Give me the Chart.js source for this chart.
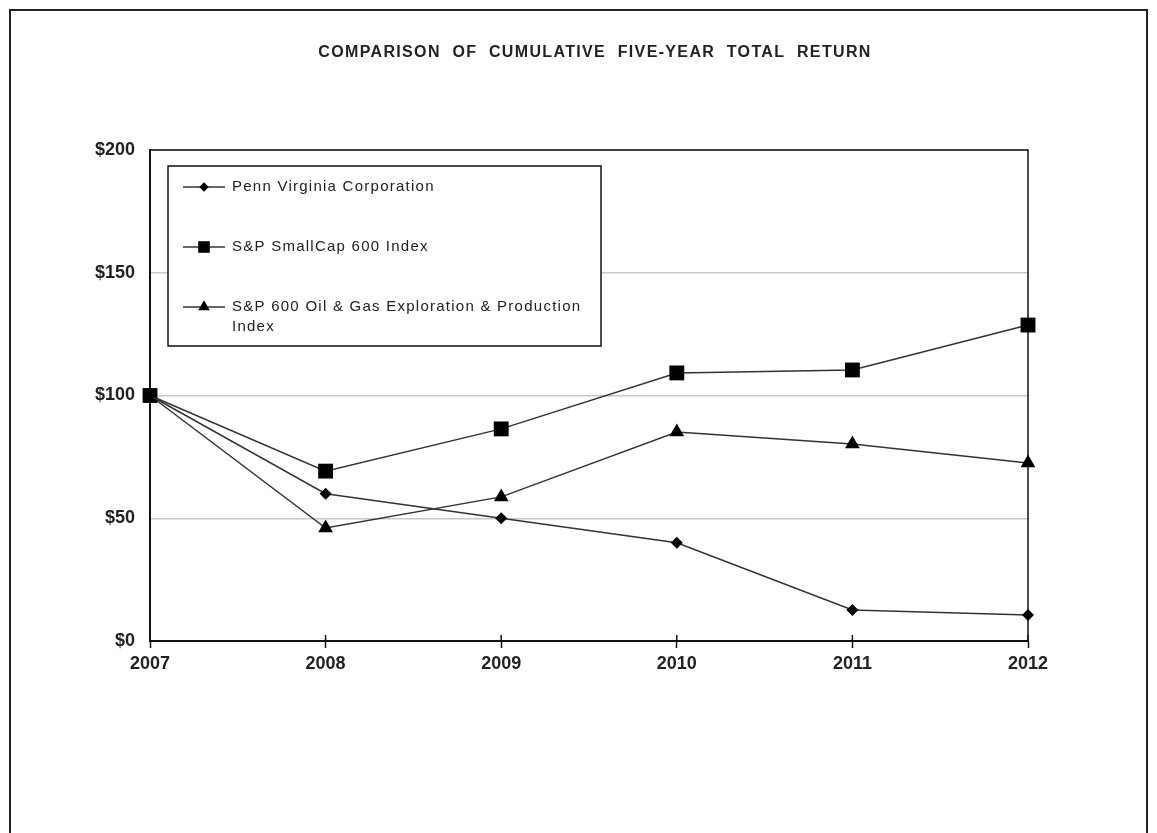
<!DOCTYPE html>
<html>
<head>
<meta charset="utf-8">
<script src="https://cdn.jsdelivr.net/npm/chart.js@4/dist/chart.umd.min.js"></script>
<style>
  html, body { margin: 0; padding: 0; background: #fff; overflow: hidden; }
  canvas { display: block; }
</style>
</head>
<body>
<canvas id="returnChart" width="1157" height="833"></canvas>
<script>
const years = ['2007', '2008', '2009', '2010', '2011', '2012'];
const pennVirginia = [100, 60, 50, 40, 12.6, 10.6];
const smallCap600 = [100, 69.2, 86.4, 109.2, 110.4, 128.7];
const oilGas600 = [100, 46, 58.7, 85.1, 80.2, 72.5];
const seriesNames = [
    'Penn Virginia Corporation',
    'S&P SmallCap 600 Index',
    'S&P 600 Oil & Gas Exploration & Production Index'
];
// legend text as it wraps in the box
const legendLines = [
    ['Penn Virginia Corporation'],
    ['S&P SmallCap 600 Index'],
    ['S&P 600 Oil & Gas Exploration & Production', 'Index']
];
const chartTitle = 'COMPARISON  OF  CUMULATIVE  FIVE-YEAR  TOTAL  RETURN';

const FONT = '"Liberation Sans", Arial, sans-serif';

function drawMarker(ctx, style, x, y, r) {
    ctx.beginPath();
    if (style === 'rect') {
        const s = Math.SQRT1_2 * r;
        ctx.rect(x - s, y - s, 2 * s, 2 * s);
    } else if (style === 'triangle') {
        let a = 0;
        ctx.moveTo(x + Math.sin(a) * r, y - Math.cos(a) * r);
        a += Math.PI * 2 / 3;
        ctx.lineTo(x + Math.sin(a) * r, y - Math.cos(a) * r);
        a += Math.PI * 2 / 3;
        ctx.lineTo(x + Math.sin(a) * r, y - Math.cos(a) * r);
    } else {
        ctx.moveTo(x - r, y);
        ctx.lineTo(x, y - r);
        ctx.lineTo(x + r, y);
        ctx.lineTo(x, y + r);
    }
    ctx.closePath();
    ctx.fill();
}

const decorPlugin = {
    id: 'decor',
    beforeDraw(chart) {
        const ctx = chart.ctx;
        ctx.save();
        ctx.fillStyle = '#fff';
        ctx.fillRect(0, 0, chart.width, chart.height);
        // outer frame (bottom edge runs off the page)
        ctx.strokeStyle = '#222';
        ctx.lineWidth = 2;
        ctx.beginPath();
        ctx.moveTo(10, chart.height + 5);
        ctx.lineTo(10, 10);
        ctx.lineTo(1147, 10);
        ctx.lineTo(1147, chart.height + 5);
        ctx.stroke();

        // title
        ctx.fillStyle = '#222';
        ctx.font = 'bold 16px ' + FONT;
        ctx.letterSpacing = '1.35px';
        ctx.textAlign = 'center';
        ctx.textBaseline = 'middle';
        ctx.fillText(chartTitle, 595, 53);
        ctx.restore();
    },
    beforeDatasetsDraw(chart) {
        const ctx = chart.ctx;
        const a = chart.chartArea;
        ctx.save();
        ctx.strokeStyle = '#111';
        ctx.lineWidth = 1.5;
        ctx.strokeRect(a.left, a.top, a.right - a.left, a.bottom - a.top);
        // small ticks poking up into the plot at each year
        const xs = chart.scales.x;
        ctx.beginPath();
        years.forEach((y, i) => {
            const px = xs.getPixelForValue(i);
            ctx.moveTo(px, a.bottom);
            ctx.lineTo(px, a.bottom - 6);
        });
        ctx.stroke();
        ctx.restore();
    },
    afterDatasetsDraw(chart) {
        const ctx = chart.ctx;
        const box = { x: 168, y: 166, w: 433, h: 180 };
        ctx.save();
        ctx.fillStyle = '#fff';
        ctx.fillRect(box.x, box.y, box.w, box.h);
        ctx.strokeStyle = '#111';
        ctx.lineWidth = 1.5;
        ctx.strokeRect(box.x, box.y, box.w, box.h);

        const rowY = [187, 247, 307];
        chart.data.datasets.forEach((ds, i) => {
            const y = rowY[i];
            ctx.strokeStyle = ds.borderColor;
            ctx.lineWidth = 1.5;
            ctx.beginPath();
            ctx.moveTo(183, y);
            ctx.lineTo(225, y);
            ctx.stroke();
            ctx.fillStyle = '#000';
            drawMarker(ctx, ds.pointStyle, 204, y, ds.pointRadius * 0.78);

            ctx.fillStyle = '#222';
            ctx.font = '15px ' + FONT;
            ctx.letterSpacing = '1.25px';
            ctx.textAlign = 'left';
            ctx.textBaseline = 'middle';
            legendLines[i].forEach((line, j) => {
                ctx.fillText(line, 232, y + j * 20);
            });
        });
        ctx.restore();
    }
};

const ctx = document.getElementById('returnChart').getContext('2d');
const returnChart = new Chart(ctx, {
    type: 'line',
    data: {
        labels: years,
        datasets: [{
            label: seriesNames[0],
            data: pennVirginia,
            borderColor: '#333',
            backgroundColor: '#000',
            borderWidth: 1.5,
            pointStyle: 'rectRot',
            pointRadius: 6,
            pointBorderWidth: 0,
            clip: false
        }, {
            label: seriesNames[1],
            data: smallCap600,
            borderColor: '#333',
            backgroundColor: '#000',
            borderWidth: 1.5,
            pointStyle: 'rect',
            pointRadius: 10.5,
            pointBorderWidth: 0,
            clip: false
        }, {
            label: seriesNames[2],
            data: oilGas600,
            borderColor: '#333',
            backgroundColor: '#000',
            borderWidth: 1.5,
            pointStyle: 'triangle',
            pointRadius: 8.5,
            pointBorderWidth: 0,
            clip: false
        }]
    },
    options: {
        responsive: false,
        animation: false,
        layout: {
            padding: { left: 90, right: 129, top: 150, bottom: 142 }
        },
        plugins: {
            legend: { display: false },
            title: { display: false },
            tooltip: { enabled: false }
        },
        scales: {
            x: {
                offset: false,
                grid: {
                    drawOnChartArea: false,
                    tickLength: 7,
                    tickColor: '#111',
                    tickWidth: 1.5
                },
                border: { color: '#111', width: 2 },
                ticks: {
                    color: '#222',
                    padding: 5,
                    maxRotation: 0,
                    font: { family: FONT, size: 18, weight: 'bold' }
                },
                afterFit(scale) { scale.height = 50; }
            },
            y: {
                min: 0,
                max: 200,
                grid: {
                    color: '#c8c8c8',
                    lineWidth: 1.5,
                    drawTicks: false
                },
                border: { color: '#111', width: 2 },
                ticks: {
                    stepSize: 50,
                    padding: 15,
                    color: '#222',
                    font: { family: FONT, size: 18, weight: 'bold' },
                    callback: (v) => '$' + v
                },
                afterFit(scale) { scale.width = 60; }
            }
        }
    },
    plugins: [decorPlugin]
});
</script>
</body>
</html>
